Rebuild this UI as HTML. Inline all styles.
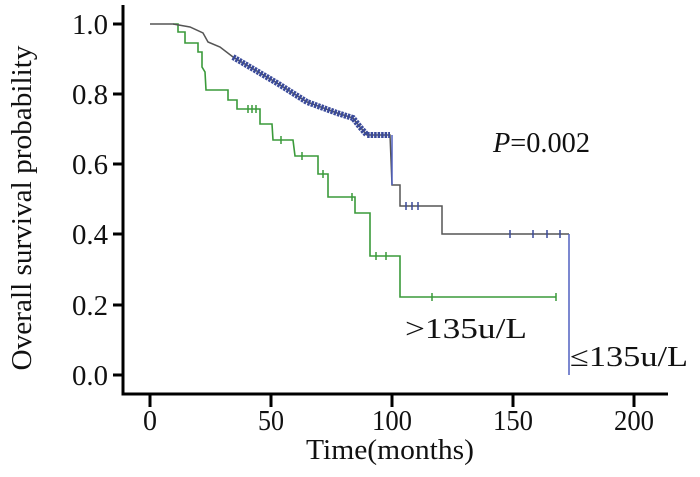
<!DOCTYPE html>
<html><head><style>
body{margin:0;background:#fff}
svg text{font-family:"Liberation Serif",serif;fill:#111}
</style></head><body>
<svg width="700" height="472" viewBox="0 0 700 472" xmlns="http://www.w3.org/2000/svg">
<g stroke="#000" stroke-width="3" fill="none">
<path d="M123 5 V394 H668"/>
<path d="M113 24 H123 M113 94 H123 M113 164 H123 M113 234 H123 M113 305 H123 M113 375 H123"/>
<path d="M150 394 V407 M271 394 V407 M392 394 V407 M513 394 V407 M634 394 V407"/>
</g>
<g font-size="28">
<text x="72" y="34" textLength="36" lengthAdjust="spacingAndGlyphs">1.0</text>
<text x="72" y="104" textLength="36" lengthAdjust="spacingAndGlyphs">0.8</text>
<text x="72" y="174" textLength="36" lengthAdjust="spacingAndGlyphs">0.6</text>
<text x="72" y="244" textLength="36" lengthAdjust="spacingAndGlyphs">0.4</text>
<text x="72" y="315" textLength="36" lengthAdjust="spacingAndGlyphs">0.2</text>
<text x="72" y="385" textLength="36" lengthAdjust="spacingAndGlyphs">0.0</text>
</g>
<g font-size="28" text-anchor="middle">
<text x="150" y="430" textLength="14" lengthAdjust="spacingAndGlyphs">0</text>
<text x="271" y="430" textLength="26" lengthAdjust="spacingAndGlyphs">50</text>
<text x="392" y="430" textLength="40" lengthAdjust="spacingAndGlyphs">100</text>
<text x="513" y="430" textLength="40" lengthAdjust="spacingAndGlyphs">150</text>
<text x="634" y="430" textLength="40" lengthAdjust="spacingAndGlyphs">200</text>
<text x="390" y="459" textLength="168" lengthAdjust="spacingAndGlyphs">Time(months)</text>
<text transform="translate(31,208) rotate(-90)" textLength="325" lengthAdjust="spacingAndGlyphs">Overall survival probability</text>
</g>
<text x="493" y="152" font-size="28" textLength="97" lengthAdjust="spacingAndGlyphs"><tspan font-style="italic">P</tspan>=0.002</text>
<text x="405" y="338" font-size="28" textLength="122" lengthAdjust="spacingAndGlyphs">&gt;135u/L</text>
<text x="570" y="366" font-size="28" textLength="118" lengthAdjust="spacingAndGlyphs">≤135u/L</text>
<!-- green -->
<path d="M173 24 H178 V32 H185 V43 H198 V52 H202 V67 L205 72 L206 90 H228 V100 H237 V109 H260 V124 H272 L273 140 H293 L295 156 H318 V174 H328 V197 H355 V213 H370 V256 H400 V297 H556" fill="none" stroke="#3a9a3a" stroke-width="1.6"/>
<g stroke="#3a9a3a" stroke-width="1.5">
<path d="M248 105 V113 M252 105 V113 M256 105 V113 M281 136 V144 M302 152 V160 M323 170 V178 M352 193 V201 M376 252 V260 M386 252 V260 M432 293 V301 M556 293 V301"/>
</g>
<!-- gray/blue -->
<path d="M150 24 H173 L190 27 L203 33 L208 42 L220 47 L233 57 L277 83 L307 102 L337 113 L353 118 L360 127 L367 135 H390 L392 185 H400 V206 H442 V234 H569" fill="none" stroke="#555" stroke-width="1.5"/>
<path d="M233 57 L277 83 L307 102 L337 113 L353 118 L360 127 L367 135 H390" fill="none" stroke="#3a4a9a" stroke-width="6" stroke-dasharray="2.5 1"/>
<path d="M392 135 V185 M569 234 V375" stroke="#5060c0" stroke-width="1.5"/>
<g stroke="#3a4a9a" stroke-width="1.5">
<path d="M406 202 V210 M412 202 V210 M418 202 V210 M510 230 V238 M533 230 V238 M547 230 V238 M560 230 V238"/>
</g>
</svg>
</body></html>
